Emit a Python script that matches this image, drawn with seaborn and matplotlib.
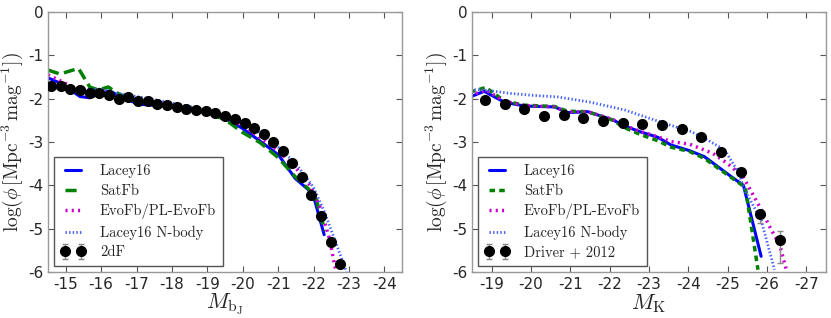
import numpy as np
import pandas as pd
import matplotlib
matplotlib.use('Agg')
import matplotlib.pyplot as plt
import seaborn as sns

# --- b_J band: 2dF data ---
bj_obs_mag = [-14.58, -14.86, -15.12, -15.40, -15.68, -15.94, -16.21, -16.50,
              -16.77, -17.03, -17.31, -17.59, -17.86, -18.13, -18.41, -18.68,
              -18.95, -19.21, -19.50, -19.77, -20.05, -20.33, -20.59, -20.86,
              -21.13, -21.40, -21.67, -21.94, -22.21, -22.49, -22.76]
bj_obs_phi = [-1.71, -1.71, -1.78, -1.80, -1.87, -1.86, -1.92, -2.00,
              -1.97, -2.05, -2.06, -2.13, -2.15, -2.20, -2.23, -2.26,
              -2.29, -2.32, -2.40, -2.47, -2.56, -2.67, -2.82, -2.99,
              -3.21, -3.49, -3.82, -4.22, -4.70, -5.30, -5.81]
bj_obs_err = [0.08, 0.05, 0.04, 0.03, 0.03, 0.03, 0.02, 0.02,
              0.02, 0.02, 0.02, 0.02, 0.02, 0.02, 0.02, 0.02,
              0.02, 0.02, 0.02, 0.02, 0.02, 0.02, 0.02, 0.02,
              0.02, 0.02, 0.02, 0.03, 0.04, 0.05, 0.06]

bj_lacey_mag = [-14.50, -14.90, -15.40, -15.68, -15.95, -16.24, -16.60, -17.08,
                -17.83, -18.50, -18.95, -19.50, -19.98, -20.12, -20.64, -21.01,
                -21.48, -21.85, -22.00, -22.30]
bj_lacey_phi = [-1.52, -1.66, -1.95, -1.98, -1.88, -1.82, -1.98, -2.13,
                -2.17, -2.24, -2.32, -2.45, -2.68, -2.76, -3.07, -3.30,
                -3.84, -4.10, -4.25, -5.14]

bj_satfb_mag = [-14.50, -14.84, -15.36, -15.68, -15.92, -16.20, -16.48, -17.08,
                -17.83, -18.50, -18.95, -19.50, -20.00, -20.50, -21.00, -21.48,
                -21.85, -22.05, -22.32]
bj_satfb_phi = [-1.34, -1.43, -1.30, -1.73, -1.80, -1.73, -1.88, -2.10,
                -2.16, -2.24, -2.32, -2.48, -2.78, -3.02, -3.36, -3.80,
                -4.08, -4.25, -5.05]

bj_evofb_mag = [-14.50, -15.00, -15.40, -15.70, -16.00, -16.24, -16.60, -17.08,
                -17.83, -18.50, -18.95, -19.50, -20.00, -20.50, -21.00, -21.50,
                -21.90, -22.18, -22.46, -22.60, -22.68]
bj_evofb_phi = [-1.45, -1.65, -1.88, -1.92, -1.86, -1.85, -1.98, -2.11,
                -2.16, -2.23, -2.30, -2.43, -2.63, -2.90, -3.20, -3.60,
                -4.00, -4.49, -5.26, -5.87, -6.05]

bj_nbody_mag = [-14.50, -15.00, -15.50, -16.00, -16.50, -17.00, -17.50, -18.00,
                -18.50, -19.00, -19.50, -20.00, -20.50, -21.00, -21.50, -22.00,
                -22.30, -22.60, -22.93]
bj_nbody_phi = [-1.75, -1.76, -1.78, -1.78, -1.88, -1.95, -2.02, -2.10,
                -2.18, -2.28, -2.38, -2.55, -2.80, -3.12, -3.50, -4.05,
                -4.60, -5.26, -6.00]

# --- K band: Driver et al. 2012 data ---
k_obs_mag = [-18.83, -19.33, -19.83, -20.33, -20.83, -21.33, -21.83, -22.33,
             -22.83, -23.33, -23.83, -24.33, -24.83, -25.34, -25.83, -26.33]
k_obs_phi = [-2.02, -2.12, -2.23, -2.39, -2.37, -2.45, -2.51, -2.55,
             -2.59, -2.60, -2.69, -2.88, -3.23, -3.70, -4.67, -5.27]
k_obs_err_lo = [0.02, 0.02, 0.02, 0.02, 0.02, 0.02, 0.02, 0.02,
                0.02, 0.02, 0.02, 0.02, 0.03, 0.04, 0.20, 0.52]
k_obs_err_hi = [0.02, 0.02, 0.02, 0.02, 0.02, 0.02, 0.02, 0.02,
                0.02, 0.02, 0.02, 0.02, 0.03, 0.04, 0.10, 0.22]

k_lacey_mag = [-18.45, -18.81, -19.32, -19.83, -20.60, -20.93, -21.44, -22.08,
               -22.38, -22.76, -23.22, -23.56, -24.03, -24.41, -25.09, -25.40,
               -25.85]
k_lacey_phi = [-1.96, -1.83, -2.08, -2.17, -2.19, -2.32, -2.30, -2.49,
               -2.63, -2.76, -2.89, -3.07, -3.20, -3.34, -3.80, -4.00,
               -5.64]

k_satfb_mag = [-18.45, -18.85, -19.32, -19.83, -20.60, -20.93, -21.44, -22.08,
               -22.38, -22.76, -23.22, -23.56, -24.03, -24.41, -25.09, -25.45,
               -25.77]
k_satfb_phi = [-1.85, -1.74, -2.05, -2.15, -2.18, -2.29, -2.30, -2.50,
               -2.67, -2.82, -2.97, -3.12, -3.22, -3.38, -3.82, -4.05,
               -5.95]

k_evofb_mag = [-18.45, -18.85, -19.32, -19.83, -20.60, -20.93, -21.44, -22.08,
               -22.38, -22.76, -23.22, -23.56, -24.03, -24.62, -25.00, -25.39,
               -25.81, -26.11, -26.32, -26.49]
k_evofb_phi = [-1.93, -1.80, -2.06, -2.16, -2.19, -2.31, -2.30, -2.48,
               -2.62, -2.75, -2.88, -2.99, -3.05, -3.26, -3.50, -3.80,
               -4.49, -5.03, -5.37, -5.95]

k_nbody_mag = [-18.47, -18.81, -19.50, -20.00, -20.68, -21.50, -22.38, -23.00,
               -23.50, -24.07, -24.50, -24.92, -25.26, -25.43, -25.85, -26.19]
k_nbody_phi = [-1.79, -1.80, -1.88, -1.92, -1.96, -2.08, -2.26, -2.45,
               -2.60, -2.76, -2.96, -3.18, -3.68, -4.10, -4.80, -5.95]

sns.set_style('ticks')
plt.rcParams['font.family'] = ['DejaVu Sans']
plt.rcParams['mathtext.fontset'] = 'cm'
plt.rcParams['axes.unicode_minus'] = False
plt.rcParams['xtick.direction'] = 'in'
plt.rcParams['ytick.direction'] = 'in'
plt.rcParams['xtick.top'] = True
plt.rcParams['ytick.right'] = True

fig = plt.figure(figsize=(8.31, 3.18), dpi=100)
ax1 = fig.add_axes([0.0578, 0.145, 0.426, 0.817])
ax2 = fig.add_axes([0.568, 0.145, 0.426, 0.817])

leg_font = {'family': 'cmr10', 'size': 10.5}


def draw_models(ax, d, sat_dash):
    sns.lineplot(x=d['lacey_mag'], y=d['lacey_phi'], ax=ax, sort=False,
                 color='#0000ff', lw=2.2, label='Lacey16')
    sns.lineplot(x=d['satfb_mag'], y=d['satfb_phi'], ax=ax, sort=False,
                 color='#008000', lw=2.5, linestyle=(0, sat_dash), label='SatFb')
    sns.lineplot(x=d['evofb_mag'], y=d['evofb_phi'], ax=ax, sort=False,
                 color='#cc00cc', lw=2.5, linestyle=(0, (0.6, 1.2)),
                 label='EvoFb/PL-EvoFb')
    sns.lineplot(x=d['nbody_mag'], y=d['nbody_phi'], ax=ax, sort=False,
                 color='#4060ff', lw=2.0, linestyle=(0, (0.5, 0.8)),
                 label='Lacey16 N-body')


def style_axes(ax, xlim, xticks, xlabel):
    ax.set_xlim(*xlim)
    ax.set_ylim(-6, 0)
    ax.set_xticks(xticks)
    ax.set_xticklabels([str(t) for t in xticks])
    ax.set_yticks(range(-6, 1))
    ax.set_yticklabels([str(t) for t in range(-6, 1)])
    ax.tick_params(labelsize=11, length=4, color='#555555')
    for s in ax.spines.values():
        s.set_color('#999999')
        s.set_linewidth(1.0)
    ax.set_xlabel(xlabel, fontsize=16, labelpad=0)
    ax.set_ylabel(r'$\log(\phi\,[\mathrm{Mpc}^{-3}\,\mathrm{mag}^{-1}])$',
                  fontsize=14, labelpad=2)


def add_legend(ax):
    h, l = ax.get_legend_handles_labels()
    ax.legend(h, l, loc='lower left', prop=leg_font, numpoints=2, fancybox=False,
              edgecolor='#555555', framealpha=1, borderpad=0.45,
              labelspacing=0.42, handlelength=1.7, handletextpad=1.0,
              borderaxespad=0.4)


# left panel
draw_models(ax1, dict(lacey_mag=bj_lacey_mag, lacey_phi=bj_lacey_phi,
                      satfb_mag=bj_satfb_mag, satfb_phi=bj_satfb_phi,
                      evofb_mag=bj_evofb_mag, evofb_phi=bj_evofb_phi,
                      nbody_mag=bj_nbody_mag, nbody_phi=bj_nbody_phi),
            (3.2, 1.6))
ax1.errorbar(bj_obs_mag, bj_obs_phi, yerr=bj_obs_err, fmt='o', color='black',
             ms=7, ecolor='#888888', capsize=2, elinewidth=1, label='2dF', zorder=5)
style_axes(ax1, (-14.5, -24.5), list(range(-15, -25, -1)), r'$M_{\rm b_J}$')
add_legend(ax1)

# right panel
draw_models(ax2, dict(lacey_mag=k_lacey_mag, lacey_phi=k_lacey_phi,
                      satfb_mag=k_satfb_mag, satfb_phi=k_satfb_phi,
                      evofb_mag=k_evofb_mag, evofb_phi=k_evofb_phi,
                      nbody_mag=k_nbody_mag, nbody_phi=k_nbody_phi),
            (1.6, 1.2))
ax2.errorbar(k_obs_mag, k_obs_phi, yerr=[k_obs_err_lo, k_obs_err_hi], fmt='o',
             color='black', ms=7, ecolor='#888888', capsize=2, elinewidth=1,
             label='Driver + 2012', zorder=5)
style_axes(ax2, (-18.5, -27.5), list(range(-19, -28, -1)), r'$M_{\rm K}$')
add_legend(ax2)

fig.savefig('out.png', dpi=100)
